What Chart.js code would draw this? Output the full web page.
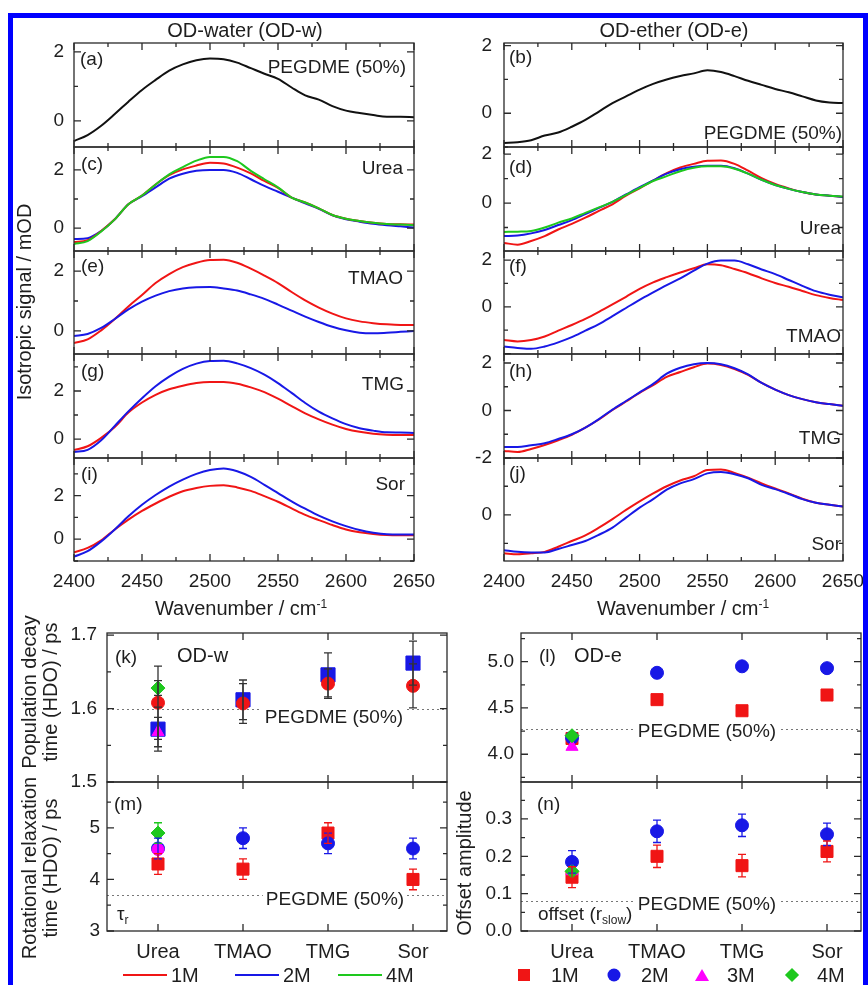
<!DOCTYPE html>
<html>
<head>
<meta charset="utf-8">
<script src="https://cdn.jsdelivr.net/npm/chart.js@4.4.0/dist/chart.umd.min.js"></script>
<style>
  body { margin: 0; background: #fff; overflow: hidden; font-family: "Liberation Sans", Arial, sans-serif; color: #1e1e1e; }
  #fig { position: relative; width: 868px; height: 985px; overflow: hidden; }
  #border { position: absolute; left: 8px; top: 13px; width: 860px; height: 1000px; box-sizing: border-box; border: 5px solid #0000ff; border-bottom: none; }
  canvas { position: absolute; }
  .t { position: absolute; white-space: nowrap; line-height: 1; font-size: 19px; }
  .l { transform: translate(0, -50%); }
  .r { transform: translate(-100%, -50%); }
  .c { transform: translate(-50%, -50%); }
  .rot { transform: translate(-50%, -50%) rotate(-90deg); text-align: center; line-height: 21px; }
  .bg { background: #fff; padding: 0 3px; }
  sup, sub { font-size: 12px; }
  .key { position: absolute; transform: translate(-50%, -50%); }
</style>
</head>
<body>
<div id="fig">
  <div id="border"></div>

  <div class="t c" style="left:245px;top:30px;font-size:20px">OD-water (OD-w)</div>
  <div class="t c" style="left:674px;top:30px;font-size:20px">OD-ether (OD-e)</div>
  <div class="t rot" style="left:24px;top:302px;font-size:20px">Isotropic signal / mOD</div>
  <div class="t c" style="left:241px;top:608px;font-size:20px">Wavenumber / cm<sup>-1</sup></div>
  <div class="t c" style="left:683px;top:608px;font-size:20px">Wavenumber / cm<sup>-1</sup></div>

  <div class="t l" style="left:80px;top:58px">(a)</div>
  <div class="t r" style="left:406px;top:66px">PEGDME (50%)</div>
  <div class="t l" style="left:509px;top:56px">(b)</div>
  <div class="t r" style="left:842px;top:132px">PEGDME (50%)</div>
  <div class="t l" style="left:81px;top:163px">(c)</div>
  <div class="t r" style="left:403px;top:167px">Urea</div>
  <div class="t l" style="left:509px;top:166px">(d)</div>
  <div class="t r" style="left:841px;top:227px">Urea</div>
  <div class="t l" style="left:81px;top:265px">(e)</div>
  <div class="t r" style="left:403px;top:277px">TMAO</div>
  <div class="t l" style="left:509px;top:265px">(f)</div>
  <div class="t r" style="left:841px;top:335px">TMAO</div>
  <div class="t l" style="left:81px;top:370px">(g)</div>
  <div class="t r" style="left:404px;top:383px">TMG</div>
  <div class="t l" style="left:509px;top:370px">(h)</div>
  <div class="t r" style="left:841px;top:437px">TMG</div>
  <div class="t l" style="left:81px;top:473px">(i)</div>
  <div class="t r" style="left:405px;top:483px">Sor</div>
  <div class="t l" style="left:509px;top:472px">(j)</div>
  <div class="t r" style="left:841px;top:543px">Sor</div>

  <div class="t rot" style="left:40px;top:692px;font-size:20px">Population decay<br>time (HDO) / ps</div>
  <div class="t rot" style="left:40px;top:868px;font-size:20px">Rotational relaxation<br>time (HDO) / ps</div>
  <div class="t rot" style="left:464px;top:863px;font-size:20px">Offset amplitude</div>
</div>

<script>
// wavenumber grid shared by every spectrum (cm-1)
const wn = [2400, 2410, 2420, 2430, 2440, 2450, 2460, 2470, 2480, 2490, 2500, 2510, 2520,
            2530, 2540, 2550, 2560, 2570, 2580, 2590, 2600, 2610, 2620, 2630, 2640, 2650];

// isotropic signal (mOD), OD-water band
const wPeg   = [-0.58, -0.41, -0.14, 0.2, 0.56, 0.9, 1.19, 1.46, 1.64, 1.76, 1.81, 1.79, 1.69, 1.53, 1.37, 1.22, 0.97, 0.74, 0.62, 0.43, 0.3, 0.23, 0.17, 0.12, 0.12, 0.11];
const wUrea1 = [-0.48, -0.42, -0.1, 0.3, 0.82, 1.12, 1.5, 1.82, 2.02, 2.15, 2.25, 2.22, 2.08, 1.88, 1.62, 1.38, 1.05, 0.88, 0.68, 0.45, 0.32, 0.24, 0.18, 0.14, 0.13, 0.12];
const wUrea2 = [-0.38, -0.35, -0.1, 0.3, 0.82, 1.1, 1.4, 1.7, 1.87, 1.97, 2.0, 2.0, 1.9, 1.68, 1.45, 1.25, 1.05, 0.85, 0.66, 0.44, 0.3, 0.22, 0.15, 0.1, 0.06, 0.02];
const wUrea4 = [-0.55, -0.45, -0.12, 0.3, 0.82, 1.12, 1.5, 1.85, 2.1, 2.32, 2.45, 2.45, 2.3, 1.97, 1.68, 1.4, 1.05, 0.88, 0.68, 0.45, 0.32, 0.24, 0.18, 0.14, 0.12, 0.1];
const wTmao1 = [-0.4, -0.28, 0.02, 0.4, 0.82, 1.2, 1.6, 1.9, 2.13, 2.28, 2.37, 2.38, 2.28, 2.08, 1.85, 1.6, 1.3, 1.02, 0.78, 0.58, 0.42, 0.32, 0.26, 0.22, 0.2, 0.2];
const wTmao2 = [-0.17, -0.1, 0.1, 0.4, 0.72, 0.98, 1.18, 1.33, 1.42, 1.46, 1.47, 1.42, 1.35, 1.22, 1.07, 0.88, 0.68, 0.48, 0.3, 0.14, 0.02, -0.06, -0.08, -0.06, -0.03, 0.0];
const wTmg1  = [-0.46, -0.3, 0.05, 0.5, 1.1, 1.52, 1.84, 2.07, 2.22, 2.33, 2.37, 2.37, 2.3, 2.15, 1.95, 1.68, 1.37, 1.07, 0.82, 0.6, 0.42, 0.3, 0.22, 0.18, 0.17, 0.17];
const wTmg2  = [-0.54, -0.45, -0.05, 0.55, 1.15, 1.7, 2.2, 2.6, 2.92, 3.14, 3.25, 3.26, 3.15, 2.95, 2.68, 2.33, 1.92, 1.5, 1.14, 0.86, 0.62, 0.45, 0.35, 0.28, 0.27, 0.25];
const wSor1  = [-0.6, -0.4, -0.05, 0.45, 0.9, 1.3, 1.64, 1.95, 2.2, 2.35, 2.45, 2.48, 2.38, 2.22, 1.98, 1.72, 1.42, 1.12, 0.88, 0.65, 0.45, 0.32, 0.24, 0.19, 0.18, 0.18];
const wSor2  = [-0.8, -0.55, -0.1, 0.45, 1.05, 1.58, 2.03, 2.42, 2.74, 3.0, 3.18, 3.25, 3.12, 2.86, 2.5, 2.12, 1.74, 1.4, 1.08, 0.82, 0.6, 0.42, 0.3, 0.23, 0.22, 0.22];

// isotropic signal (mOD), OD-ether band
const ePeg   = [-0.88, -0.86, -0.8, -0.66, -0.57, -0.4, -0.2, 0.05, 0.3, 0.5, 0.7, 0.87, 1.0, 1.1, 1.18, 1.27, 1.22, 1.1, 0.96, 0.84, 0.72, 0.62, 0.5, 0.38, 0.32, 0.3];
const eUrea1 = [-1.63, -1.7, -1.55, -1.35, -1.08, -0.85, -0.6, -0.32, -0.05, 0.3, 0.6, 0.92, 1.22, 1.45, 1.6, 1.73, 1.74, 1.6, 1.32, 1.02, 0.78, 0.6, 0.45, 0.35, 0.3, 0.25];
const eUrea2 = [-1.35, -1.33, -1.24, -1.1, -0.9, -0.7, -0.45, -0.2, 0.05, 0.35, 0.65, 0.93, 1.2, 1.38, 1.48, 1.52, 1.52, 1.42, 1.2, 0.95, 0.74, 0.58, 0.45, 0.35, 0.3, 0.25];
const eUrea4 = [-1.18, -1.17, -1.14, -1.0, -0.8, -0.63, -0.4, -0.18, 0.05, 0.33, 0.62, 0.9, 1.1, 1.3, 1.44, 1.5, 1.5, 1.4, 1.2, 0.95, 0.74, 0.58, 0.45, 0.35, 0.3, 0.27];
const eTmao1 = [-1.42, -1.48, -1.42, -1.27, -1.02, -0.78, -0.52, -0.22, 0.1, 0.43, 0.77, 1.05, 1.27, 1.47, 1.65, 1.82, 1.78, 1.62, 1.44, 1.22, 1.02, 0.86, 0.68, 0.5, 0.38, 0.29];
const eTmao2 = [-1.7, -1.76, -1.8, -1.7, -1.52, -1.3, -1.02, -0.74, -0.4, -0.05, 0.3, 0.62, 0.93, 1.22, 1.55, 1.85, 1.98, 1.98, 1.82, 1.6, 1.4, 1.15, 0.9, 0.67, 0.52, 0.41];
const eTmg1  = [-1.7, -1.75, -1.62, -1.45, -1.25, -1.02, -0.72, -0.38, 0.02, 0.38, 0.74, 1.07, 1.42, 1.62, 1.82, 1.98, 1.92, 1.75, 1.5, 1.16, 0.88, 0.65, 0.48, 0.35, 0.27, 0.2];
const eTmg2  = [-1.54, -1.54, -1.46, -1.38, -1.2, -1.0, -0.72, -0.36, 0.04, 0.4, 0.76, 1.12, 1.55, 1.8, 1.95, 2.0, 1.95, 1.78, 1.52, 1.16, 0.88, 0.65, 0.48, 0.35, 0.27, 0.2];
const eSor1  = [-1.35, -1.38, -1.35, -1.3, -1.12, -0.92, -0.72, -0.45, -0.15, 0.17, 0.47, 0.75, 1.0, 1.2, 1.35, 1.57, 1.59, 1.47, 1.3, 1.1, 0.92, 0.75, 0.56, 0.42, 0.35, 0.29];
const eSor2  = [-1.24, -1.3, -1.32, -1.32, -1.2, -1.06, -0.92, -0.7, -0.45, -0.1, 0.25, 0.55, 0.88, 1.1, 1.25, 1.45, 1.5, 1.42, 1.28, 1.05, 0.9, 0.73, 0.55, 0.42, 0.35, 0.29];

// fitted parameters per solute (1M, 2M, 3M, 4M); 3M and 4M were only measured for urea
const solutes = ['Urea', 'TMAO', 'TMG', 'Sor'];
const popW1 = [1.608, 1.607, 1.634, 1.631], popW1Err = [0.05, 0.027, 0.02, 0.03];
const popW2 = [1.572, 1.612, 1.646, 1.662], popW2Err = [0.03, 0.027, 0.03, 0.03];
const popW3 = [1.568], popW3Err = [0.02];
const popW4 = [1.628], popW4Err = [0.01];
const popE1 = [4.17, 4.59, 4.47, 4.64];
const popE2 = [4.18, 4.88, 4.95, 4.93];
const popE3 = [4.08];
const popE4 = [4.2];
const rotW1 = [4.3, 4.2, 4.9, 4.0], rotW1Err = [0.2, 0.2, 0.2, 0.2];
const rotW2 = [4.6, 4.8, 4.7, 4.6], rotW2Err = [0.2, 0.2, 0.2, 0.2];
const rotW3 = [4.58];
const rotW4 = [4.9], rotW4Err = [0.2];
const offE1 = [0.144, 0.2, 0.175, 0.213], offE1Err = [0.028, 0.03, 0.03, 0.028];
const offE2 = [0.185, 0.267, 0.283, 0.259], offE2Err = [0.03, 0.03, 0.03, 0.03];
const offE3 = [0.16];
const offE4 = [0.16];
// neat PEGDME (50%) reference values
const pegPopW = 1.6, pegPopE = 4.27, pegRotW = 3.7, pegOffE = 0.08;

// tick labels
const specTicks = [2400, 2450, 2500, 2550, 2600, 2650];
const catTicks = [1, 2, 3, 4];

const RED = '#f01515', BLUE = '#1818e6', GREEN = '#1ec81e', MAG = '#ff00ff';

Chart.defaults.font.family = '"Liberation Sans", Arial, sans-serif';
Chart.defaults.font.size = 19;
Chart.defaults.color = '#1e1e1e';

function ticksAt(scale, minor, major) {
  const out = [];
  for (let k = Math.ceil(scale.min / minor - 1e-6); k * minor <= scale.max + 1e-9; k++) {
    const v = k * minor;
    out.push([v, Math.abs(v / major - Math.round(v / major)) < 1e-6]);
  }
  return out;
}

// box around the plot area with inward ticks on all four sides, plus optional dotted reference line
const framePlugin = {
  id: 'frame',
  beforeDatasetsDraw(chart, args, o) {
    if (o.ref == null) return;
    const {ctx, chartArea: a, scales: {y}} = chart;
    const py = Math.round(y.getPixelForValue(o.ref)) + 0.5;
    ctx.save();
    ctx.strokeStyle = '#777';
    ctx.lineWidth = 1;
    ctx.setLineDash([2, 3]);
    ctx.beginPath();
    ctx.moveTo(a.left, py);
    ctx.lineTo(a.right, py);
    ctx.stroke();
    ctx.restore();
  },
  afterDatasetsDraw(chart, args, o) {
    const {ctx, chartArea: a, scales: {x, y}} = chart;
    ctx.save();
    ctx.strokeStyle = '#2a2a2a';
    ctx.lineWidth = 1.3;
    ctx.beginPath();
    ticksAt(x, o.xMinor, o.xMajor).forEach(([v, big]) => {
      const px = x.getPixelForValue(v), len = big ? 7 : 4;
      ctx.moveTo(px, a.bottom); ctx.lineTo(px, a.bottom - len);
      ctx.moveTo(px, a.top); ctx.lineTo(px, a.top + len);
    });
    ticksAt(y, o.yMinor, o.yMajor).forEach(([v, big]) => {
      const py = y.getPixelForValue(v), len = big ? 7 : 4;
      ctx.moveTo(a.left, py); ctx.lineTo(a.left + len, py);
      ctx.moveTo(a.right, py); ctx.lineTo(a.right - len, py);
    });
    ctx.stroke();
    ctx.strokeRect(a.left, a.top, a.right - a.left, a.bottom - a.top);
    ctx.restore();
  }
};

// vertical error bars with caps, read from dataset.err
const errPlugin = {
  id: 'errbars',
  afterDatasetsDraw(chart) {
    const {ctx, scales: {x, y}} = chart;
    chart.data.datasets.forEach(ds => {
      if (!ds.err) return;
      ctx.save();
      ctx.strokeStyle = ds.errColor;
      ctx.lineWidth = 1.3;
      ctx.beginPath();
      ds.data.forEach((p, j) => {
        const e = ds.err[j];
        if (e == null) return;
        const px = x.getPixelForValue(p.x);
        const lo = y.getPixelForValue(p.y - e), hi = y.getPixelForValue(p.y + e);
        ctx.moveTo(px, lo); ctx.lineTo(px, hi);
        ctx.moveTo(px - 4, lo); ctx.lineTo(px + 4, lo);
        ctx.moveTo(px - 4, hi); ctx.lineTo(px + 4, hi);
      });
      ctx.stroke();
      ctx.restore();
    });
  }
};

function panel(r, datasets, o) {
  const YW = 70, PT = 26, PR = 44, PB = 36;
  const cv = document.createElement('canvas');
  cv.width = YW + r.w + PR;
  cv.height = PT + r.h + PB;
  cv.style.left = (r.l - YW) + 'px';
  cv.style.top = (r.t - PT) + 'px';
  document.getElementById('fig').insertBefore(cv, document.getElementById('border'));
  return new Chart(cv, {
    type: 'scatter',
    data: { datasets },
    options: {
      responsive: false,
      animation: false,
      devicePixelRatio: 1,
      layout: { padding: { top: PT, right: PR, left: 0, bottom: 0 } },
      plugins: { legend: { display: false }, tooltip: { enabled: false }, frame: o.frame },
      scales: {
        x: {
          type: 'linear', min: o.xMin, max: o.xMax,
          grid: { display: false, drawTicks: false }, border: { display: false },
          ticks: { display: !!o.xLabel, padding: 9, autoSkip: false, maxRotation: 0, font: { size: o.xSize || 19 },
                   callback: v => o.xLabel ? o.xLabel(v) : '' },
          afterBuildTicks: s => { s.ticks = o.xTicks.map(v => ({ value: v })); },
          afterFit: s => { s.height = PB; }
        },
        y: {
          min: o.yMin, max: o.yMax,
          grid: { display: false, drawTicks: false }, border: { display: false },
          ticks: { padding: o.yPad, callback: v => v.toFixed(o.dec) },
          afterBuildTicks: s => { s.ticks = o.yTicks.map(v => ({ value: v })); },
          afterFit: s => { s.width = YW; }
        }
      }
    },
    plugins: [framePlugin, errPlugin]
  });
}

const spec = (ys, color) => ({
  data: wn.map((x, i) => ({ x, y: ys[i] })),
  showLine: true, borderColor: color, borderWidth: 2, pointRadius: 0, cubicInterpolationMode: 'monotone'
});
const specFrame = { xMinor: 25, xMajor: 50, yMinor: 1, yMajor: 2 };

function spectrumPanel(r, sets, yMin, yMax, yTicks, yPad, last) {
  panel(r, sets, {
    xMin: 2400, xMax: 2650, xTicks: specTicks, xLabel: last ? (v => String(v)) : null,
    yMin, yMax, yTicks, dec: 0, yPad, frame: specFrame
  });
}

const L = 74, LW = 340, R = 504, RW = 339;
const rows = [[43, 104], [147, 104], [251, 103], [354, 104], [458, 103]];
const at = (l, w, i) => ({ l, w, t: rows[i][0], h: rows[i][1] });

// OD-water column
spectrumPanel(at(L, LW, 0), [spec(wPeg, '#111')], -0.755, 2.26, [0, 2], 10);
spectrumPanel(at(L, LW, 1), [spec(wUrea4, GREEN), spec(wUrea1, RED), spec(wUrea2, BLUE)], -0.79, 2.79, [0, 2], 10);
spectrumPanel(at(L, LW, 2), [spec(wTmao2, BLUE), spec(wTmao1, RED)], -0.77, 2.67, [0, 2], 10);
spectrumPanel(at(L, LW, 3), [spec(wTmg2, BLUE), spec(wTmg1, RED)], -0.79, 3.54, [0, 2], 10);
spectrumPanel(at(L, LW, 4), [spec(wSor2, BLUE), spec(wSor1, RED)], -1.0, 3.73, [0, 2], 10, true);

// OD-ether column
spectrumPanel(at(R, RW, 0), [spec(ePeg, '#111')], -1.0, 2.08, [0, 2], 12);
spectrumPanel(at(R, RW, 1), [spec(eUrea4, GREEN), spec(eUrea2, BLUE), spec(eUrea1, RED)], -1.96, 2.29, [0, 2], 12);
spectrumPanel(at(R, RW, 2), [spec(eTmao2, BLUE), spec(eTmao1, RED)], -2.02, 2.39, [0, 2], 12);
spectrumPanel(at(R, RW, 3), [spec(eTmg2, BLUE), spec(eTmg1, RED)], -2.0, 2.38, [-2, 0, 2], 12);
spectrumPanel(at(R, RW, 4), [spec(eSor2, BLUE), spec(eSor1, RED)], -1.62, 1.99, [0], 12, true);

// fit-parameter panels
const pts = ys => ys.map((y, i) => ({ x: i + 1, y }));
const mark = (ys, style, color, radius, err, errColor) => ({
  data: pts(ys), pointStyle: style, pointRadius: radius, backgroundColor: color,
  borderColor: color, borderWidth: 1, err, errColor
});
const catFrame = (yMinor, yMajor, ref) => ({ xMinor: 1, xMajor: 1, yMinor, yMajor, ref });
const cat = { xMin: 0.4, xMax: 4.4, xTicks: catTicks };
const catLabel = v => solutes[v - 1];

panel({ l: 107, t: 633, w: 340, h: 149 }, [
  mark(popW4, 'rectRot', GREEN, 7, popW4Err, '#333'),
  mark(popW3, 'triangle', MAG, 7, popW3Err, '#333'),
  mark(popW1, 'circle', RED, 6.5, popW1Err, '#333'),
  mark(popW2, 'rect', BLUE, 10, popW2Err, '#333')
], { ...cat, yMin: 1.5, yMax: 1.703, yTicks: [1.5, 1.6, 1.7], dec: 1, yPad: 10, frame: catFrame(0.05, 0.1, pegPopW) });

panel({ l: 107, t: 782, w: 340, h: 149 }, [
  mark(rotW4, 'rectRot', GREEN, 7, rotW4Err, GREEN),
  mark(rotW3, 'circle', MAG, 6, null),
  mark(rotW2, 'circle', BLUE, 6.5, rotW2Err, BLUE),
  mark(rotW1, 'rect', RED, 8.5, rotW1Err, RED)
], { ...cat, xLabel: catLabel, xSize: 20, yMin: 3, yMax: 5.89, yTicks: [3, 4, 5], dec: 0, yPad: 7, frame: catFrame(0.5, 1, pegRotW) });

panel({ l: 521, t: 633, w: 340, h: 149 }, [
  mark(popE4, 'rectRot', GREEN, 7),
  mark(popE3, 'triangle', MAG, 7),
  mark(popE2, 'circle', BLUE, 6.5),
  mark(popE1, 'rect', RED, 8.5)
], { ...cat, yMin: 3.7, yMax: 5.31, yTicks: [4, 4.5, 5], dec: 1, yPad: 7, frame: catFrame(0.25, 0.5, pegPopE) });

panel({ l: 521, t: 782, w: 340, h: 149 }, [
  mark(offE4, 'rectRot', GREEN, 7),
  mark(offE3, 'triangle', MAG, 7),
  mark(offE2, 'circle', BLUE, 6.5, offE2Err, BLUE),
  mark(offE1, 'rect', RED, 8.5, offE1Err, RED)
], { ...cat, xLabel: catLabel, xSize: 20, yMin: 0, yMax: 0.399, yTicks: [0, 0.1, 0.2, 0.3], dec: 1, yPad: 9, frame: catFrame(0.05, 0.1, pegOffE) });

// overlay text for the fit panels and the two keys
const fig = document.getElementById('fig');
function text(html, x, y, cls, extra) {
  const d = document.createElement('div');
  d.className = 't ' + cls;
  d.style.left = x + 'px';
  d.style.top = y + 'px';
  if (extra) d.style.cssText += extra;
  d.innerHTML = html;
  fig.appendChild(d);
}
text('(k)', 115, 656, 'l');
text('OD-w', 177, 655, 'l', 'font-size:20px');
text('PEGDME (50%)', 334, 716, 'c bg');
text('(m)', 114, 803, 'l');
text('&tau;<sub>r</sub>', 117, 915, 'l');
text('PEGDME (50%)', 335, 898, 'c bg');
text('(l)', 539, 655, 'l');
text('OD-e', 574, 655, 'l', 'font-size:20px');
text('PEGDME (50%)', 707, 730, 'c bg');
text('(n)', 537, 803, 'l');
text('offset (r<sub>slow</sub>)', 538, 915, 'l');
text('PEGDME (50%)', 707, 903, 'c bg');

const keyY = 975;
[[RED, 123, '1M'], [BLUE, 235, '2M'], [GREEN, 338, '4M']].forEach(([c, x, s]) => {
  const ln = document.createElement('div');
  ln.style.cssText = `position:absolute;left:${x}px;top:${keyY - 1}px;width:44px;height:2px;background:${c}`;
  fig.appendChild(ln);
  text(s, x + 48, keyY, 'l', 'font-size:20px');
});
const shapes = [
  [524, 'width:12px;height:12px;background:' + RED, '1M', 551],
  [614, 'width:13px;height:13px;border-radius:50%;background:' + BLUE, '2M', 641],
  [702, 'width:0;height:0;border-left:7px solid transparent;border-right:7px solid transparent;border-bottom:12px solid ' + MAG, '3M', 727],
  [792, 'width:10px;height:10px;background:' + GREEN + ';transform:translate(-50%,-50%) rotate(45deg)', '4M', 817]
];
shapes.forEach(([x, css, s, tx]) => {
  const k = document.createElement('div');
  k.className = 'key';
  k.style.cssText += `left:${x}px;top:${keyY}px;` + css;
  fig.appendChild(k);
  text(s, tx, keyY, 'l', 'font-size:20px');
});
</script>
</body>
</html>
